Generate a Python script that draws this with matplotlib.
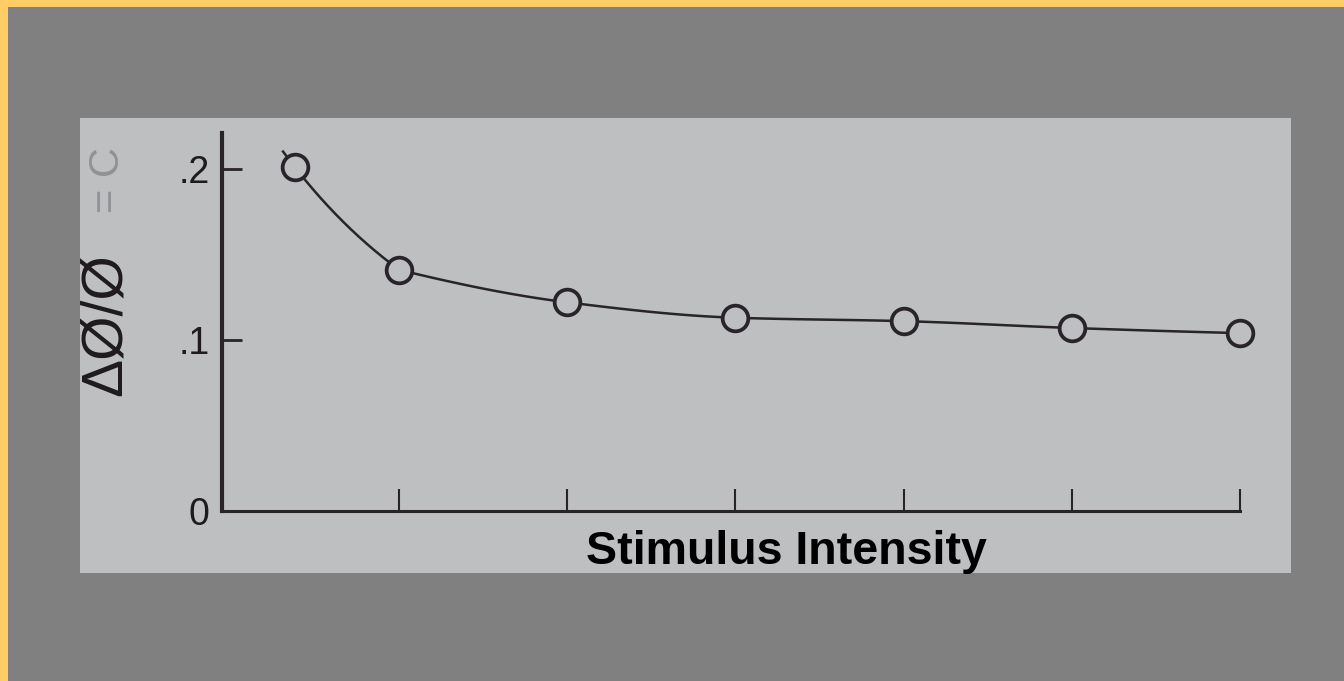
import numpy as np
import matplotlib
matplotlib.use('Agg')
import matplotlib.pyplot as plt
from matplotlib.patches import Rectangle

# ---- data ----
intensity = [0.38, 1, 2, 3, 4, 5, 6]
ratio = [0.201, 0.141, 0.122, 0.113, 0.111, 0.107, 0.104]
ytick_vals = [0, 0.1, 0.2]
ytick_labels = ['0', '.1', '.2']
xtick_vals = [1, 2, 3, 4, 5, 6]
xlabel = 'Stimulus Intensity'
ylabel = 'ΔØ/Ø'
note = '= C'

W, H = 1344, 681
paper = '#bdbfc1'
ink = '#29232a'
orange = '#ffcc66'

plt.rcParams['font.family'] = ['Liberation Sans', 'DejaVu Sans']

fig = plt.figure(figsize=(W / 100, H / 100), dpi=100)
fig.patch.set_facecolor('#808080')


def rect(x0, y0, x1, y1):
    return [x0 / W, 1 - y1 / H, (x1 - x0) / W, (y1 - y0) / H]


def add_rect(x0, y0, x1, y1, color, z=0):
    l, b, w, h = rect(x0, y0, x1, y1)
    fig.add_artist(Rectangle((l, b), w, h, transform=fig.transFigure,
                             facecolor=color, edgecolor='none', zorder=z))


add_rect(0, 0, 8, H, orange)
add_rect(0, 0, W, 7, orange)
add_rect(80, 118, 1291, 573, paper)


def hermite(x0, x1, y0, y1, d0, d1, xs):
    h = x1 - x0
    t = (xs - x0) / h
    return ((2 * t**3 - 3 * t**2 + 1) * y0 + (t**3 - 2 * t**2 + t) * h * d0
            + (-2 * t**3 + 3 * t**2) * y1 + (t**3 - t**2) * h * d1)


def pchip_slopes(x, y):
    x = np.asarray(x, float)
    y = np.asarray(y, float)
    n = len(x)
    h = np.diff(x)
    delta = np.diff(y) / h
    d = np.zeros(n)
    for k in range(1, n - 1):
        if delta[k - 1] * delta[k] > 0:
            w1 = 2 * h[k] + h[k - 1]
            w2 = h[k] + 2 * h[k - 1]
            d[k] = (w1 + w2) / (w1 / delta[k - 1] + w2 / delta[k])
    d[0] = ((2 * h[0] + h[1]) * delta[0] - h[0] * delta[1]) / (h[0] + h[1])
    d[-1] = ((2 * h[-1] + h[-2]) * delta[-1] - h[-1] * delta[-2]) / (h[-1] + h[-2])
    return d


ax = fig.add_axes(rect(222, 133, 1240, 511))
ax.patch.set_visible(False)
ax.set_xlim(-0.0535, 6)
ax.set_ylim(0, 0.221)

# first (steep) segment: gently concave, slight overshoot above the first point
s0 = (ratio[1] - ratio[0]) / (intensity[1] - intensity[0])
xa = np.linspace(intensity[0] - 0.075, intensity[1], 200)
ya = hermite(intensity[0], intensity[1], ratio[0], ratio[1], 1.3 * s0, 0.75 * s0, xa)
ax.plot(xa, ya, color=ink, lw=1.8, zorder=2, clip_on=False, solid_capstyle='butt')

# remaining segments: monotone cubic through the data
d = pchip_slopes(intensity[1:], ratio[1:])
for k in range(1, len(intensity) - 1):
    xb = np.linspace(intensity[k], intensity[k + 1], 120)
    yb = hermite(intensity[k], intensity[k + 1], ratio[k], ratio[k + 1],
                 d[k - 1], d[k], xb)
    ax.plot(xb, yb, color=ink, lw=1.8, zorder=2, clip_on=False)

ax.plot(intensity, ratio, linestyle='none', marker='o', ms=18.5, mew=2.7,
        mfc=paper, mec=ink, zorder=3, clip_on=False)

for s in ['top', 'right']:
    ax.spines[s].set_visible(False)
ax.spines['left'].set_linewidth(3)
ax.spines['left'].set_color(ink)
ax.spines['bottom'].set_linewidth(2.2)
ax.spines['bottom'].set_color(ink)

ax.set_yticks(ytick_vals)
ax.set_yticklabels(ytick_labels)
ax.set_xticks(xtick_vals)
ax.tick_params(axis='y', direction='in', length=14.5, width=2, pad=9,
               labelsize=27, color=ink, labelcolor='#1e1a1e')
ax.tick_params(axis='x', direction='in', length=16, width=1.5,
               labelbottom=False, color=ink)

fig.text(106 / W, 1 - 325 / H, ylabel, rotation=90, fontsize=41,
         ha='center', va='center', color='#1e1a1e')
fig.text(108 / W, 1 - 180 / H, note, rotation=90, fontsize=30,
         ha='center', va='center', color='#919196')
fig.text(786 / W, 1 - 564 / H, xlabel, fontsize=33.5, fontweight='bold',
         ha='center', va='baseline', color='black')

fig.savefig('out.png', dpi=100, facecolor=fig.get_facecolor())
